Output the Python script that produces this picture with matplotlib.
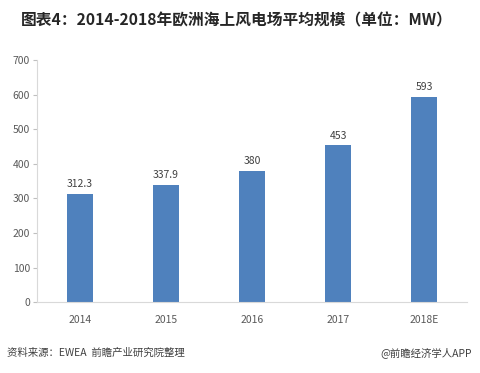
import matplotlib
matplotlib.use("Agg")
import matplotlib.pyplot as plt

plt.rcParams['font.family'] = ['Noto Sans CJK SC', 'DejaVu Sans']

categories = ["2014", "2015", "2016", "2017", "2018E"]
values = [312.3, 337.9, 380, 453, 593]
labels = ["312.3", "337.9", "380", "453", "593"]
yticks = [0, 100, 200, 300, 400, 500, 600, 700]

fig = plt.figure(figsize=(4.81, 3.73), dpi=100)
ax = fig.add_axes([0.077, 0.190, 0.894, 0.649])

x = range(len(categories))
bars = ax.bar(x, values, width=0.31, color="#4F81BD")
for xi, v, lab in zip(x, values, labels):
    ax.text(xi, v + 14, lab, ha="center", va="bottom", fontsize=7.5, color="#404040")

ax.set_xlim(-0.5, len(categories) - 0.5)
ax.set_ylim(0, 700)
ax.set_yticks(yticks)
ax.set_xticks(list(x))
ax.set_xticklabels(categories)
ax.tick_params(axis="y", length=3, color="#BFBFBF", labelsize=7.5, labelcolor="#595959", pad=2)
ax.tick_params(axis="x", length=0, labelsize=7.5, labelcolor="#595959", pad=9)
for s in ["top", "right"]:
    ax.spines[s].set_visible(False)
for s in ["left", "bottom"]:
    ax.spines[s].set_color("#D9D9D9")
    ax.spines[s].set_linewidth(0.8)

fig.text(0.493, 0.945, "图表4：2014-2018年欧洲海上风电场平均规模（单位：MW）",
         ha="center", va="center", fontsize=11.3, fontweight="bold", color="#262626")
fig.text(0.015, 0.055, "资料来源：EWEA  前瞻产业研究院整理", ha="left", va="center",
         fontsize=7.5, style="italic", color="#404040")
fig.text(0.982, 0.055, "@前瞻经济学人APP", ha="right", va="center",
         fontsize=7.5, color="#404040")

fig.savefig("out.png", dpi=100)
